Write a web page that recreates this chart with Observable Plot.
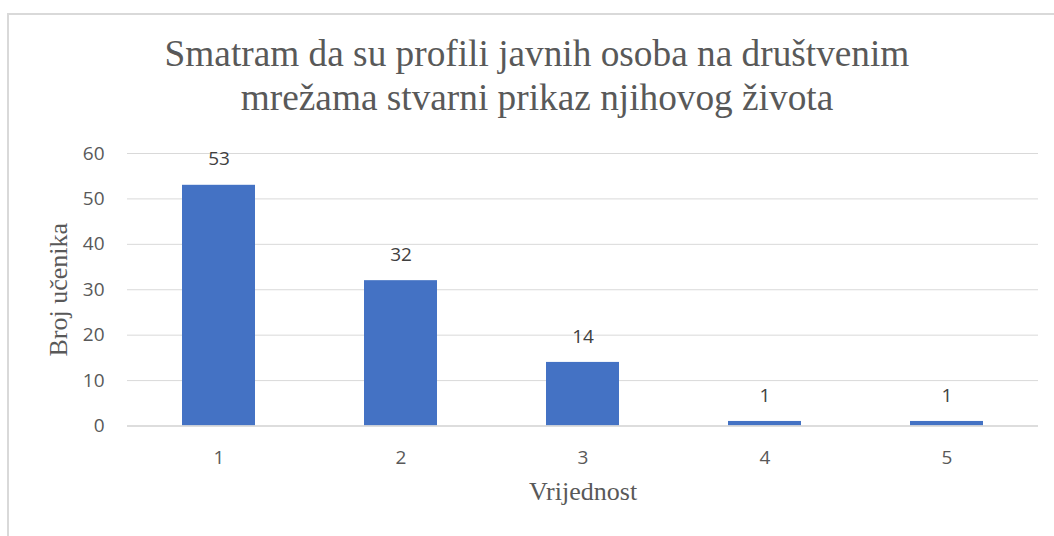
<!DOCTYPE html>
<html>
<head>
<meta charset="utf-8">
<script src="https://cdn.jsdelivr.net/npm/d3@7"></script>
<script src="https://cdn.jsdelivr.net/npm/@observablehq/plot@0.6"></script>
<style>
  html, body { margin: 0; padding: 0; background: #fff; }
  #wrap { position: relative; width: 1054px; height: 536px; overflow: hidden; background: #fff; }
  #frame { position: absolute; left: 7px; top: 13px; width: 1100px; height: 600px; border-left: 2px solid #d9d9d9; border-top: 2px solid #d9d9d9; box-sizing: border-box; }
  #title { position: absolute; left: 0; top: 32px; width: 1074px; text-align: center;
           font-family: "Liberation Serif", "Times New Roman", serif; font-size: 37.3px; line-height: 44px; color: #595959; }
  #chart { position: absolute; left: 0; top: 0; }
</style>
</head>
<body>
<div id="wrap">
  <div id="frame"></div>
  <div id="chart"></div>
  <div id="title">Smatram da su profili javnih osoba na društvenim<br>mrežama stvarni prikaz njihovog života</div>
</div>
<script>
const categories = ["1", "2", "3", "4", "5"];
const counts = [53, 32, 14, 1, 1];
const yTicks = [0, 10, 20, 30, 40, 50, 60];
const xLabel = "Vrijednost";
const yLabel = "Broj učenika";

const data = categories.map((c, i) => ({cat: c, value: counts[i]}));
const sans = "'Open Sans', 'Noto Sans', sans-serif";
const serif = "'Liberation Serif', 'Times New Roman', serif";

const chart = Plot.plot({
  width: 1054,
  height: 536,
  marginLeft: 127,
  marginRight: 16,
  marginTop: 153,
  marginBottom: 110.5,
  style: {background: "transparent", fontFamily: sans},
  x: {domain: categories, paddingInner: 0.6, paddingOuter: 0.3, label: null},
  y: {domain: [0, 60], label: null},
  marks: [
    Plot.gridY(yTicks, {stroke: "#d9d9d9", strokeOpacity: 1, strokeWidth: 1}),
    Plot.barY(data, {x: "cat", y: "value", fill: "#4472C4"}),
    Plot.ruleY([0], {stroke: "#d9d9d9", strokeWidth: 1.5}),
    Plot.axisY({ticks: yTicks, tickSize: 0, tickPadding: 23, fontSize: 19, fill: "#595959", label: null}),
    Plot.axisX({tickSize: 0, tickPadding: 24, fontSize: 19, fill: "#595959", label: null}),
    Plot.text(data, {x: "cat", y: "value", text: d => String(d.value), dy: -26, fontSize: 19, fill: "#404040", fontFamily: sans}),
    Plot.text([yLabel], {frameAnchor: "left", rotate: -90, dx: -69, fontSize: 26, fontFamily: serif, fill: "#595959", textAnchor: "middle"}),
    Plot.text([xLabel], {frameAnchor: "bottom", dy: 74, fontSize: 26, fontFamily: serif, fill: "#595959", textAnchor: "middle"})
  ]
});
document.getElementById("chart").appendChild(chart);
</script>
</body>
</html>
